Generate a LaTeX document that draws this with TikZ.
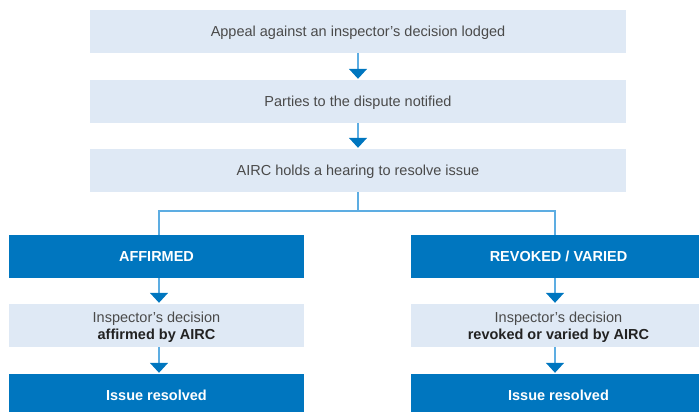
\documentclass[tikz,border=0pt]{standalone}
\usepackage{fontspec}
\setmainfont{Liberation Sans}
\usetikzlibrary{arrows.meta}
\definecolor{lbox}{HTML}{DFE9F5}
\definecolor{dblue}{HTML}{0076BF}
\definecolor{lline}{HTML}{5DADE2}
\definecolor{txt}{HTML}{4A4A4A}
\definecolor{btxt}{HTML}{222222}
\tikzset{
  boxbase/.style={draw=none, inner sep=0pt, minimum height=43pt, align=center, text height=10.4pt, text depth=0pt, font=\fontsize{14.5}{16.7}\selectfont},
  lightbox/.style={boxbase, fill=lbox, text=txt},
  twoline/.style={text height=27.1pt, text depth=0pt},
  darkbox/.style={boxbase, fill=dblue, text=white, font=\fontsize{14.5}{16.7}\selectfont\bfseries},
  conn/.style={draw=lline, line width=1.5pt},
  branch/.style={draw=lline, line width=1.2pt},
  arr/.style={conn, -{Triangle[width=18pt,length=10pt,color=dblue]}, shorten >=1pt}
}
\begin{document}
\begin{tikzpicture}[x=1pt,y=-1pt]
\useasboundingbox (0,0) rectangle (699,412);
\begin{scope}
\clip (0,0) rectangle (699,412);
\node[lightbox, minimum width=536pt] (b1) at (358,31.5) {Appeal against an inspector’s decision lodged};
\node[lightbox, minimum width=536pt] (b2) at (358,101.5) {Parties to the dispute notified};
\node[lightbox, minimum width=536pt] (b3) at (358,170.5) {AIRC holds a hearing to resolve issue};
\node[darkbox, minimum width=295pt] (aff) at (156.5,256.5) {AFFIRMED};
\node[lightbox, twoline, minimum width=295pt] (affd) at (156.5,325.5) {Inspector’s decision\\{\color{btxt}\bfseries affirmed by AIRC}};
\node[darkbox, minimum width=295pt] (affr) at (156.5,395.5) {Issue resolved};
\node[darkbox, minimum width=295pt] (rev) at (558.5,256.5) {REVOKED / VARIED};
\node[lightbox, twoline, minimum width=295pt] (revd) at (558.5,325.5) {Inspector’s decision\\{\color{btxt}\bfseries revoked or varied by AIRC}};
\node[darkbox, minimum width=295pt] (revr) at (558.5,395.5) {Issue resolved};
\end{scope}
\coordinate (lc) at (159,0);
\coordinate (rc) at (555,0);
\coordinate (split) at (358,211);
\draw[arr] (b1.south) -- (b2.north);
\draw[arr] (b2.south) -- (b3.north);
\draw[branch] (b3.south) -- (split);
\draw[branch] (split) -- (split -| lc) -- (aff.north -| lc);
\draw[branch] (split) -- (split -| rc) -- (rev.north -| rc);
\draw[arr] (aff.south -| lc) -- (affd.north -| lc);
\draw[arr] (affd.south -| lc) -- (affr.north -| lc);
\draw[arr] (rev.south -| rc) -- (revd.north -| rc);
\draw[arr] (revd.south -| rc) -- (revr.north -| rc);
\end{tikzpicture}
\end{document}
